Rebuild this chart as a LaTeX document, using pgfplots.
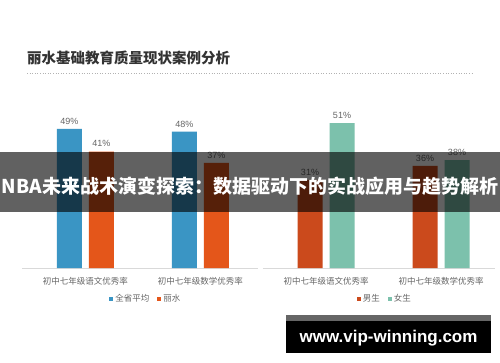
\documentclass[border=0pt]{standalone}
\usepackage{pgfplots}
\pgfplotsset{compat=1.18}
\usepackage{fontspec}
\setmainfont{Liberation Sans}
\newfontfamily\cjk{Noto Sans CJK SC}
\definecolor{cblue}{HTML}{3A95C4}
\definecolor{corange}{HTML}{E4561A}
\definecolor{cmale}{HTML}{CB4A1C}
\definecolor{cteal}{HTML}{7CC1AC}
\definecolor{ctxt}{HTML}{666666}
\definecolor{cline}{HTML}{D9D9D9}
\pgfplotsset{
  panel/.style={
    scale only axis, height=170.4pt, ymin=0, ymax=60,
    ybar=7pt, bar width=25pt,
    hide y axis, axis x line*=bottom,
    x axis line style={draw=cline, -},
    xtick={0,1}, major tick length=0pt,
    xticklabel style={font=\cjk\fontsize{8.5}{10}\selectfont, text=ctxt, yshift=-5.5pt},
    nodes near coords={\pgfmathprintnumber{\pgfplotspointmeta}\%},
    nodes near coords style={font=\fontsize{9}{10}\selectfont, text=ctxt, yshift=1pt},
    /pgf/number format/assume math mode=true,
    legend style={draw=none, fill=none, legend columns=2, font=\cjk\fontsize{8.5}{10}\selectfont, text=ctxt,
      /tikz/every even column/.append style={column sep=6pt}, anchor=center},
  }
}
\begin{document}
\begin{tikzpicture}[x=1pt,y=1pt]
\useasboundingbox (0,0) rectangle (500,362);
\fill[white] (0,0) rectangle (500,362);
\node[anchor=west, font=\cjk\bfseries\fontsize{14.5}{16}\selectfont, text=black!80, inner sep=0pt] at (27,304) {丽水基础教育质量现状案例分析};
\draw[gray!60, dotted, line width=0.6pt] (27,289) -- (473,289);

\begin{axis}[panel, at={(22pt,94pt)}, anchor=south west, width=236pt,
  xmin=-0.55, xmax=1.5,
  xticklabels={初中七年级语文优秀率, 初中七年级数学优秀率},
  legend style={at={(0.525,-0.18)}}]
\addplot[fill=cblue, draw=none, legend image code/.code={\fill[cblue] (0pt,-2pt) rectangle (4pt,2pt);}] coordinates {(0,49) (1,48)};
\addplot[fill=corange, draw=none, legend image code/.code={\fill[corange] (0pt,-2pt) rectangle (4pt,2pt);}] coordinates {(0,41) (1,37)};
\legend{全省平均, 丽水}
\end{axis}

\begin{axis}[panel, at={(262.75pt,94pt)}, anchor=south west, width=232.3pt,
  xmin=-0.55, xmax=1.47,
  xticklabels={初中七年级语文优秀率, 初中七年级数学优秀率},
  legend style={at={(0.526,-0.18)}}]
\addplot[fill=cmale, draw=none, legend image code/.code={\fill[cmale] (0pt,-2pt) rectangle (4pt,2pt);}] coordinates {(0,31) (1,36)};
\addplot[fill=cteal, draw=none, legend image code/.code={\fill[cteal] (0pt,-2pt) rectangle (4pt,2pt);}] coordinates {(0,51) (1,38)};
\legend{男生, 女生}
\end{axis}

% overlay banner
\fill[black, opacity=0.62] (0,150) rectangle (500,210);
\node[font=\cjk\bfseries\fontsize{19}{21}\selectfont, text=white, inner sep=0pt] at (250,176) {NBA未来战术演变探索：数据驱动下的实战应用与趋势解析};
% watermark box
\fill[black] (286,9) rectangle (491,47);
\fill[black!60] (286,41) rectangle (491,47);
\node[font=\bfseries\fontsize{17}{19}\selectfont, text=white, inner sep=0pt] at (388.5,24) {www.vip-winning.com};
\end{tikzpicture}
\end{document}
